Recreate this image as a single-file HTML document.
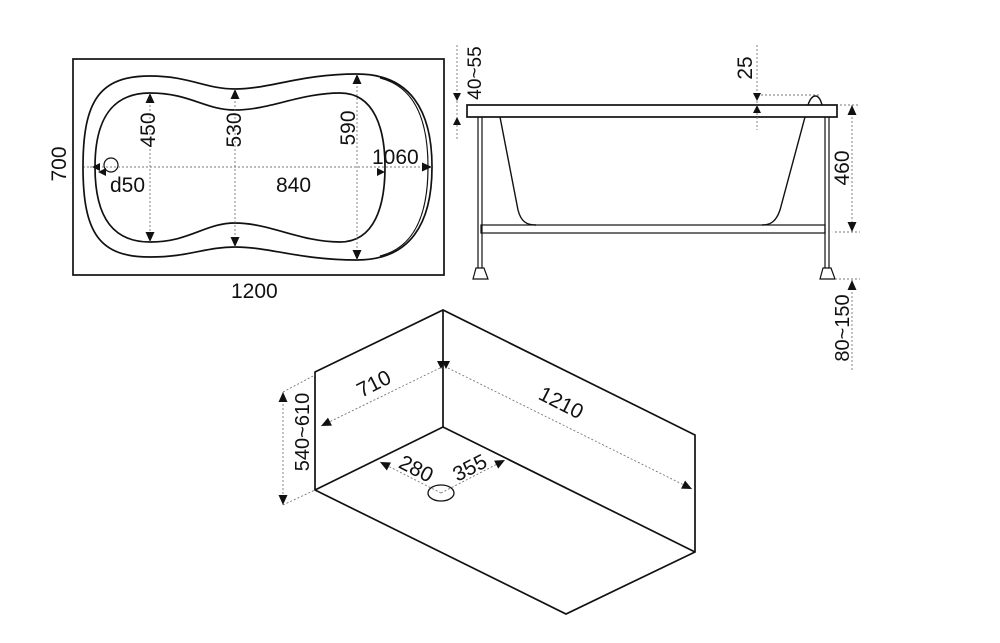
<!DOCTYPE html>
<html><head><meta charset="utf-8"><style>
html,body{margin:0;padding:0;background:#fff;}
svg{display:block}
text{font-family:"Liberation Sans",Arial,sans-serif;fill:#111;}
</style></head><body>
<svg width="1000" height="643" viewBox="0 0 1000 643" xmlns="http://www.w3.org/2000/svg">
<defs>
<marker id="a" viewBox="0 0 10 10" refX="10" refY="5" markerWidth="10" markerHeight="10" markerUnits="userSpaceOnUse" orient="auto-start-reverse"><path d="M0,0.5 L10,5 L0,9.5 z" fill="#111"/></marker>
</defs>
<g fill="none" stroke="#111" stroke-width="1.7">
<!-- TOP VIEW -->
<rect x="73" y="59" width="371" height="216"/>
<path d="M83,167 C83,100 100,76 150,76 C190,76 205,89 235,89 C270,89 300,74 357,74 C410,74 432,110 432,167 C432,224 410,260 357,260 C300,260 270,247 235,247 C205,247 190,257 150,257 C100,257 83,234 83,167 Z"/>
<path d="M380,78 C412,86 428,115 428,167 C428,219 412,248 380,256" stroke-width="1.2"/>
<path d="M95,167 C95,115 115,93 150,93 C190,93 205,110 235,110 C270,110 300,93 340,93 C375,93 385,130 385,167 C385,205 375,242 340,242 C300,242 270,223 235,223 C205,223 190,242 150,242 C115,242 95,220 95,167 Z"/>
<circle cx="111" cy="165" r="7" stroke-width="1.2"/>
<!-- SIDE VIEW -->
<rect x="467" y="105" width="370" height="12"/>
<path d="M808,105 C812,93 819,93 822,105" stroke-width="1.4"/>
<path d="M500,117 L518,210 C521,222 527,225 536,225" stroke-width="1.4"/>
<path d="M805,117 L780,210 C776,222 770,225 762,225" stroke-width="1.4"/>
<rect x="481" y="225" width="344" height="8" stroke-width="1.2"/>
<line x1="478" y1="117" x2="478" y2="268" stroke-width="1.2"/>
<line x1="482" y1="117" x2="482" y2="268" stroke-width="1.2"/>
<line x1="825" y1="117" x2="825" y2="268" stroke-width="1.2"/>
<line x1="829" y1="117" x2="829" y2="268" stroke-width="1.2"/>
<path d="M476,268 L484,268 L488,279 L473,279 Z" stroke-width="1.2"/>
<path d="M823,268 L831,268 L835,279 L820,279 Z" stroke-width="1.2"/>
<!-- ISOMETRIC BOX -->
<path d="M315,372 L443,310 L695,435 L695,552 L566,614 L315,490 Z"/>
<path d="M443,310 L443,427 L695,552 M443,427 L315,490"/>
<ellipse cx="441" cy="493" rx="13" ry="8" stroke-width="1.3"/>
</g>
<!-- dimension lines -->
<g fill="none" stroke="#777" stroke-width="0.9" stroke-dasharray="2,2">
<line x1="150" y1="93" x2="150" y2="242" marker-start="url(#a)" marker-end="url(#a)"/>
<line x1="235" y1="89" x2="235" y2="247" marker-start="url(#a)" marker-end="url(#a)"/>
<line x1="357" y1="74" x2="357" y2="260" marker-start="url(#a)" marker-end="url(#a)"/>
<line x1="90" y1="167" x2="432" y2="167" marker-end="url(#a)"/>
<line x1="89" y1="167" x2="84" y2="167"/>
<line x1="457" y1="45" x2="457" y2="140"/>
<line x1="757" y1="45" x2="757" y2="130"/>
<line x1="757" y1="95" x2="820" y2="95"/>
<line x1="840" y1="105" x2="860" y2="105"/>
<line x1="835" y1="232" x2="860" y2="232"/>
<line x1="835" y1="279" x2="860" y2="279"/>
<line x1="852" y1="105" x2="852" y2="232" marker-start="url(#a)" marker-end="url(#a)"/>
<line x1="852" y1="280" x2="852" y2="372" marker-start="url(#a)"/>
<line x1="283" y1="392" x2="283" y2="505" marker-start="url(#a)" marker-end="url(#a)"/>
<line x1="283" y1="392" x2="315" y2="375"/>
<line x1="283" y1="505" x2="315" y2="490"/>
<line x1="440" y1="368" x2="321" y2="426" marker-end="url(#a)"/>
<line x1="448" y1="368" x2="692" y2="489" marker-end="url(#a)"/>
<line x1="441" y1="493" x2="380" y2="462" marker-end="url(#a)"/>
<line x1="441" y1="493" x2="505" y2="460" marker-end="url(#a)"/>
</g>
<g fill="#111">
<path d="M92,167 l8,-4 v8 z"/>
<path d="M98,172 l8,-4 v8 z"/>
<path d="M385,172 l-8,-4 v8 z"/>
<path d="M457,101 l-4,-8 h8 z"/>
<path d="M457,117 l-4,8 h8 z"/>
<path d="M757,101 l-4,-8 h8 z"/>
<path d="M757,105 l-4,8 h8 z"/>
<path d="M441,369 l-4,-8 h8 z"/>
<path d="M446,369 l-4,-8 h8 z"/>
</g>
<!-- labels -->
<g font-size="21">
<text transform="translate(66,164) rotate(-90)" text-anchor="middle">700</text>
<text transform="translate(155,130) rotate(-90)" text-anchor="middle">450</text>
<text transform="translate(241,130) rotate(-90)" text-anchor="middle">530</text>
<text transform="translate(355,128) rotate(-90)" text-anchor="middle">590</text>
<text x="372" y="164">1060</text>
<text x="276" y="192">840</text>
<text x="110" y="192">d50</text>
<text x="231" y="298">1200</text>
<text transform="translate(481,73) rotate(-90)" text-anchor="middle" font-size="19">40~55</text>
<text transform="translate(752,68) rotate(-90)" text-anchor="middle">25</text>
<text transform="translate(849,168) rotate(-90)" text-anchor="middle">460</text>
<text transform="translate(849,328) rotate(-90)" text-anchor="middle" font-size="20">80~150</text>
<text transform="translate(309,432) rotate(-90)" text-anchor="middle" font-size="20">540~610</text>
<text transform="translate(377,390) rotate(-27)" text-anchor="middle">710</text>
<text transform="translate(558,409) rotate(27)" text-anchor="middle">1210</text>
<text transform="translate(413,475) rotate(27)" text-anchor="middle">280</text>
<text transform="translate(473,474) rotate(-27)" text-anchor="middle">355</text>
</g>
</svg>
</body></html>
